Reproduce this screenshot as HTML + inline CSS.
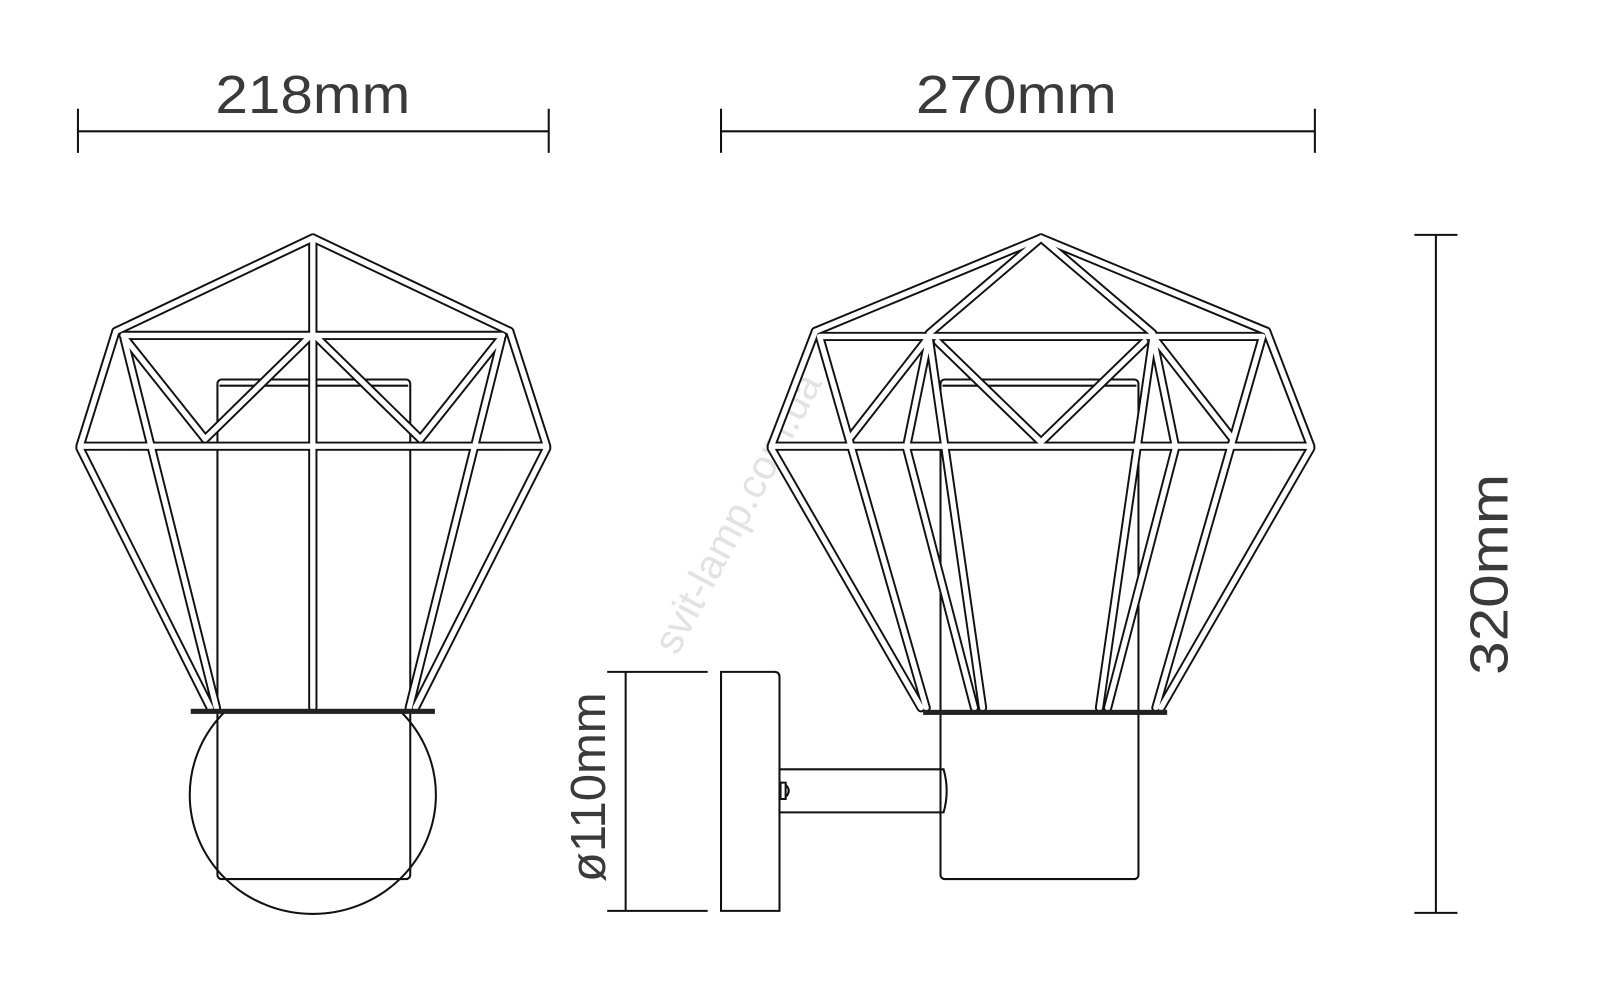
<!DOCTYPE html>
<html><head><meta charset="utf-8"><style>
html,body{margin:0;padding:0;background:#fff;}
svg{display:block;}
text{font-family:"Liberation Sans",sans-serif;fill:#3a3a3a;}
</style></head><body>
<svg width="1600" height="997" viewBox="0 0 1560 972" preserveAspectRatio="none" xmlns="http://www.w3.org/2000/svg">
<rect width="1560" height="972" fill="#fff"/>
<defs>
<style>
.o{stroke:#111;stroke-width:9;stroke-linecap:round;fill:none}
.i{stroke:#fff;stroke-width:5.2;stroke-linecap:round;fill:none}
.l{stroke:#111;stroke-width:2;fill:none}
</style>
</defs>

<text x="0" y="0" font-size="40" transform="translate(660,640) rotate(-62)" style="fill:#e2e2e2">svit-lamp.com.ua</text>

<g class="l">
<line x1="76" y1="128" x2="535" y2="128"/><line x1="76" y1="106" x2="76" y2="149"/><line x1="535" y1="106" x2="535" y2="149"/>
<line x1="703" y1="128" x2="1282" y2="128"/><line x1="703" y1="106" x2="703" y2="149"/><line x1="1282" y1="106" x2="1282" y2="149"/>
<line x1="1400" y1="229" x2="1400" y2="890"/><line x1="1379" y1="229" x2="1421" y2="229"/><line x1="1379" y1="890" x2="1421" y2="890"/>
<line x1="610" y1="655" x2="610" y2="888"/><line x1="592" y1="655" x2="690" y2="655"/><line x1="592" y1="888" x2="690" y2="888"/>
</g>
<text x="210" y="110" font-size="52" textLength="190" lengthAdjust="spacingAndGlyphs">218mm</text>
<text x="893" y="110" font-size="52" textLength="196" lengthAdjust="spacingAndGlyphs">270mm</text>
<text x="0" y="0" font-size="52" textLength="196" lengthAdjust="spacingAndGlyphs" transform="translate(1470,658) rotate(-90)">320mm</text>
<text x="0" y="0" font-size="48" textLength="185" lengthAdjust="spacingAndGlyphs" transform="translate(590,860) rotate(-90)">ø110mm</text>

<ellipse cx="305" cy="775" rx="120" ry="116" class="l"/>
<rect x="180" y="600" width="250" height="93" fill="#fff"/>
<rect x="212" y="370" width="188" height="487" rx="4" fill="#fff" class="l"/>
<line x1="214" y1="376" x2="398" y2="376" class="l" stroke-width="1.5"/>
<g>
<g class="o">
<line x1="305" y1="232" x2="113" y2="323"/><line x1="305" y1="232" x2="497" y2="323"/>
<line x1="113" y1="323" x2="78" y2="435"/><line x1="497" y1="323" x2="533" y2="435"/>
<line x1="120" y1="327" x2="490" y2="327"/>
<line x1="82" y1="435" x2="530" y2="435"/>
<line x1="122" y1="330" x2="200" y2="428"/><line x1="300" y1="330" x2="200" y2="428"/>
<line x1="310" y1="330" x2="410" y2="428"/><line x1="488" y1="330" x2="410" y2="428"/>
<line x1="78" y1="437" x2="205" y2="690"/><line x1="121" y1="330" x2="211" y2="690"/>
<line x1="533" y1="437" x2="405" y2="690"/><line x1="489" y1="330" x2="399" y2="690"/>
<line x1="305" y1="232" x2="305" y2="690"/>
</g>
<g class="i">
<line x1="305" y1="232" x2="113" y2="323"/><line x1="305" y1="232" x2="497" y2="323"/>
<line x1="113" y1="323" x2="78" y2="435"/><line x1="497" y1="323" x2="533" y2="435"/>
<line x1="120" y1="327" x2="490" y2="327"/>
<line x1="82" y1="435" x2="530" y2="435"/>
<line x1="122" y1="330" x2="200" y2="428"/><line x1="300" y1="330" x2="200" y2="428"/>
<line x1="310" y1="330" x2="410" y2="428"/><line x1="488" y1="330" x2="410" y2="428"/>
<line x1="78" y1="437" x2="205" y2="690"/><line x1="121" y1="330" x2="211" y2="690"/>
<line x1="533" y1="437" x2="405" y2="690"/><line x1="489" y1="330" x2="399" y2="690"/>
<line x1="305" y1="232" x2="305" y2="690"/>
</g>
</g>
<rect x="186" y="691" width="238" height="5" fill="#222"/>

<path d="M703 655 H755 Q760 655 760 660 V888 H703 Z" fill="#fff" class="l"/>
<path d="M760 750 H920 Q926 771 920 792 H760" fill="#fff" class="l"/>
<path d="M761 763 h5 v16 h-5 z M766 765 q6 6 0 12" class="l" stroke-width="1.5"/>

<rect x="917" y="370" width="193" height="487" rx="4" fill="#fff" class="l"/>
<line x1="919" y1="376" x2="1108" y2="376" class="l" stroke-width="1.5"/>
<g>
<g class="o">
<line x1="1015" y1="232" x2="795" y2="323"/><line x1="1015" y1="232" x2="1235" y2="323"/>
<line x1="1015" y1="232" x2="906" y2="325"/><line x1="1015" y1="232" x2="1124" y2="325"/>
<line x1="800" y1="328" x2="1230" y2="328"/>
<line x1="795" y1="323" x2="752" y2="435"/><line x1="1235" y1="323" x2="1278" y2="435"/>
<line x1="756" y1="435" x2="1274" y2="435"/>
<line x1="914" y1="333" x2="1015" y2="431"/><line x1="1116" y1="333" x2="1015" y2="431"/>
<line x1="906" y1="328" x2="828" y2="428"/><line x1="1124" y1="328" x2="1202" y2="428"/>
<line x1="799" y1="328" x2="903" y2="690"/><line x1="1231" y1="328" x2="1127" y2="690"/>
<line x1="752" y1="437" x2="898" y2="690"/><line x1="1278" y1="437" x2="1132" y2="690"/>
<line x1="906" y1="328" x2="884" y2="435"/><line x1="1124" y1="328" x2="1146" y2="435"/>
<line x1="884" y1="437" x2="950" y2="690"/><line x1="1146" y1="437" x2="1080" y2="690"/>
<line x1="906" y1="330" x2="958" y2="690"/><line x1="1124" y1="330" x2="1072" y2="690"/>
</g>
<g class="i">
<line x1="1015" y1="232" x2="795" y2="323"/><line x1="1015" y1="232" x2="1235" y2="323"/>
<line x1="1015" y1="232" x2="906" y2="325"/><line x1="1015" y1="232" x2="1124" y2="325"/>
<line x1="800" y1="328" x2="1230" y2="328"/>
<line x1="795" y1="323" x2="752" y2="435"/><line x1="1235" y1="323" x2="1278" y2="435"/>
<line x1="756" y1="435" x2="1274" y2="435"/>
<line x1="914" y1="333" x2="1015" y2="431"/><line x1="1116" y1="333" x2="1015" y2="431"/>
<line x1="906" y1="328" x2="828" y2="428"/><line x1="1124" y1="328" x2="1202" y2="428"/>
<line x1="799" y1="328" x2="903" y2="690"/><line x1="1231" y1="328" x2="1127" y2="690"/>
<line x1="752" y1="437" x2="898" y2="690"/><line x1="1278" y1="437" x2="1132" y2="690"/>
<line x1="906" y1="328" x2="884" y2="435"/><line x1="1124" y1="328" x2="1146" y2="435"/>
<line x1="884" y1="437" x2="950" y2="690"/><line x1="1146" y1="437" x2="1080" y2="690"/>
<line x1="906" y1="330" x2="958" y2="690"/><line x1="1124" y1="330" x2="1072" y2="690"/>
</g>
</g>
<rect x="900" y="692" width="238" height="5" fill="#222"/>
</svg>
</body></html>
